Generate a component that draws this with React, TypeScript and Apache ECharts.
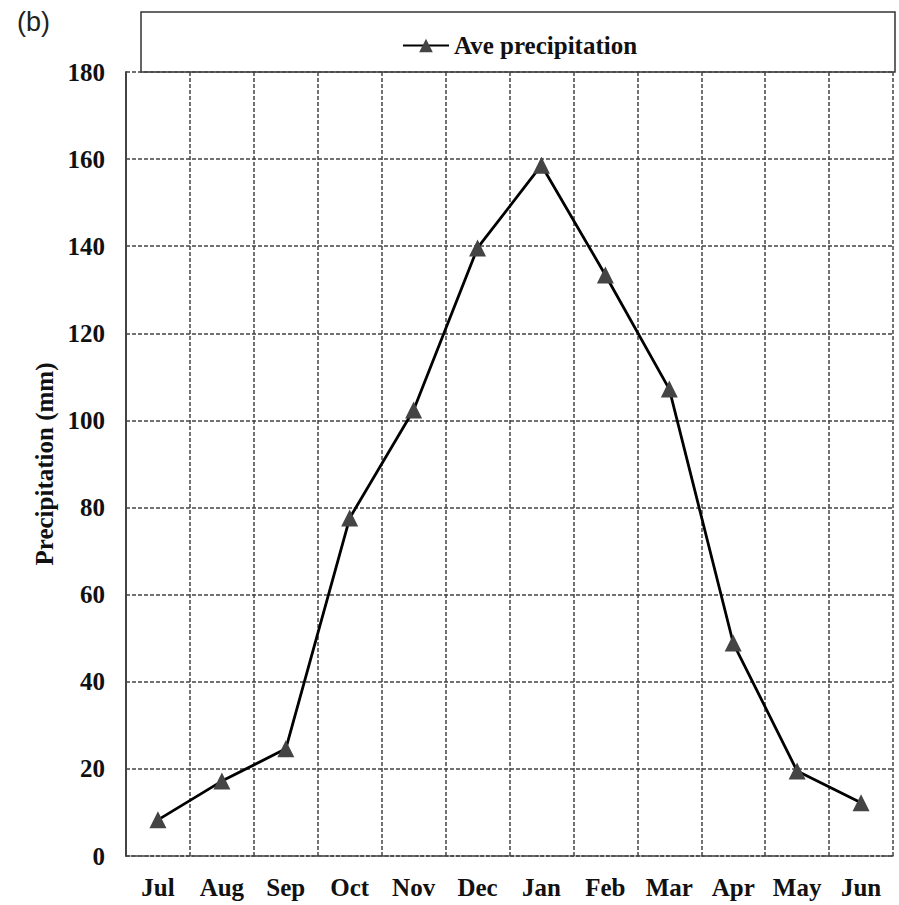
import React, { useEffect, useRef } from "react";
import * as echarts from "echarts";

const months = ["Jul", "Aug", "Sep", "Oct", "Nov", "Dec", "Jan", "Feb", "Mar", "Apr", "May", "Jun"];
const avePrecipitation = [8.3, 17.2, 24.6, 77.6, 102.4, 139.6, 158.6, 133.4, 107.2, 48.9, 19.5, 12.2];
const yMin = 0;
const yMax = 180;
const yInterval = 20;

export default function App() {
  const ref = useRef<HTMLDivElement>(null);
  useEffect(() => {
    if (!ref.current) return;
    const chart = echarts.init(ref.current, undefined, { renderer: "svg" });
    const serif = "'Liberation Serif', 'Times New Roman', serif";
    chart.setOption({
      animation: false,
      backgroundColor: "#fff",
      grid: { left: 126, right: 6, top: 72, bottom: 49, containLabel: false },
      graphic: [
        {
          type: "rect",
          z: 0,
          shape: { x: 141, y: 12, width: 754, height: 60 },
          style: { fill: "#fff", stroke: "#333", lineWidth: 1.5 },
        },
        {
          type: "text",
          left: 17,
          top: 8,
          style: { text: "(b)", font: "27px 'Liberation Sans', Arial, sans-serif", fill: "#222" },
        },
      ],
      legend: {
        data: ["Ave precipitation"],
        left: 397,
        top: 28,
        itemWidth: 46,
        itemHeight: 17,
        itemGap: 3,
        textStyle: { fontFamily: serif, fontWeight: "bold", fontSize: 25, color: "#111" },
      },
      xAxis: {
        type: "category",
        data: months,
        boundaryGap: true,
        axisLine: { show: true, lineStyle: { color: "#444", type: [3, 2], width: 1.5 } },
        axisTick: { show: false },
        axisLabel: { fontFamily: serif, fontWeight: "bold", fontSize: 25, color: "#111", margin: 19, interval: 0 },
        splitLine: { show: true, lineStyle: { color: "#444", type: [4, 2], width: 1.5 } },
      },
      yAxis: {
        type: "value",
        min: yMin,
        max: yMax,
        interval: yInterval,
        name: "Precipitation (mm)",
        nameLocation: "middle",
        nameGap: 66,
        nameTextStyle: { fontFamily: serif, fontWeight: "bold", fontSize: 25, color: "#111" },
        axisLine: { show: true, lineStyle: { color: "#444", width: 2 } },
        axisTick: { show: false },
        axisLabel: { fontFamily: serif, fontWeight: "bold", fontSize: 25, color: "#111", margin: 21 },
        splitLine: { show: true, lineStyle: { color: "#444", type: [4, 2], width: 1.5 } },
      },
      series: [
        {
          name: "Ave precipitation",
          type: "line",
          data: avePrecipitation,
          symbol: "triangle",
          symbolSize: 17,
          itemStyle: { color: "#444" },
          lineStyle: { color: "#000", width: 2.8 },
          z: 3,
        },
      ],
    });
    return () => chart.dispose();
  }, []);
  return <div ref={ref} style={{ position: "fixed", left: 0, top: 0, width: 899, height: 905 }} />;
}
